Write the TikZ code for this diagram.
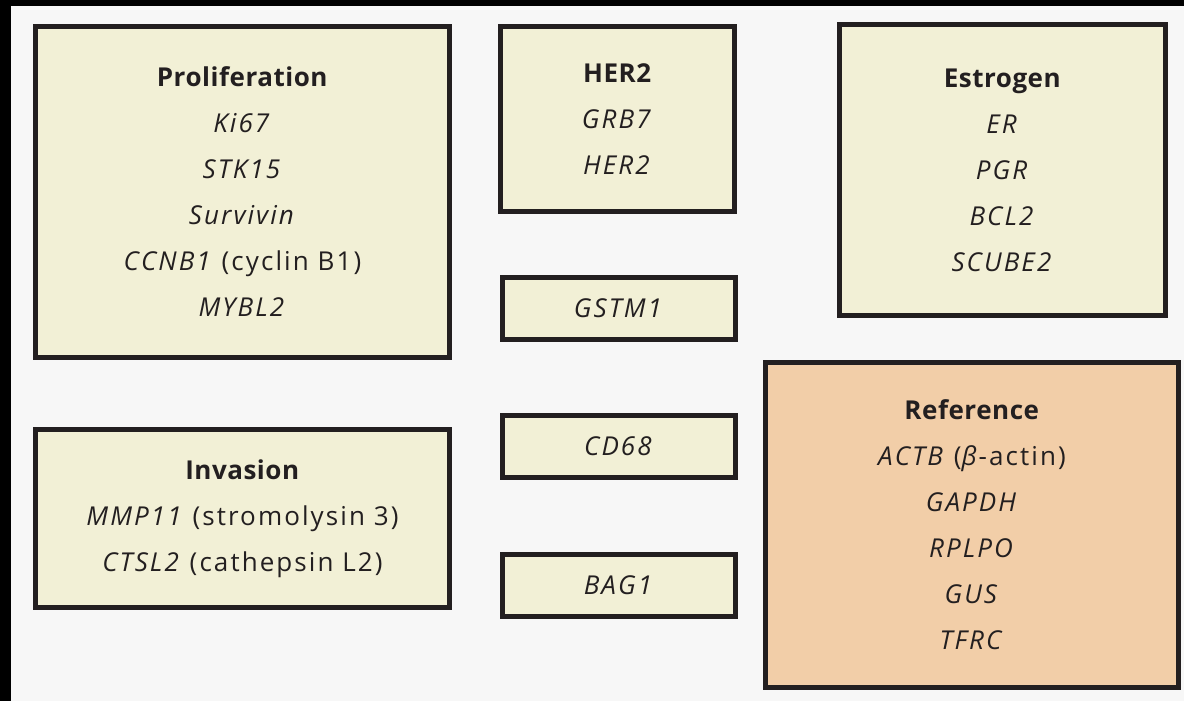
\documentclass[tikz,border=0pt]{standalone}
\usepackage{fontspec}
\setmainfont{Open Sans}[LetterSpace=8,BoldFeatures={LetterSpace=2}]
\usetikzlibrary{positioning}
\definecolor{boxcream}{HTML}{F2F0D6}
\definecolor{boxpeach}{HTML}{F2CEA8}
\definecolor{edgedark}{HTML}{231F20}
\definecolor{pagegray}{HTML}{F7F7F7}
\begin{document}
\begin{tikzpicture}[x=1pt,y=-1pt,node distance=138.5pt,on grid,
    group/.style={draw=edgedark,line width=5pt,fill=boxcream,inner sep=0pt,align=center,
      text=edgedark,font=\fontsize{26}{46}\selectfont},
    refgroup/.style={group,fill=boxpeach},
    single/.style={group,minimum width=233pt,minimum height=62pt}]
  % page and frame edges
  \fill[pagegray] (0,0) rectangle (1184,701);
  \fill[black] (0,0) rectangle (1184,6);
  \fill[black] (0,0) rectangle (11,701);

  \node[group,minimum width=414pt,minimum height=331pt] (prolif) at (242.5,192)
    {\textbf{Proliferation}\\ \textit{Ki67}\\ \textit{STK15}\\ \textit{Survivin}\\
     \textit{CCNB1} (cyclin B1)\\ \textit{MYBL2}};
  \node[group,minimum width=234pt,minimum height=185pt] (her2) at (617.5,119)
    {\textbf{HER2}\\ \textit{GRB7}\\ \textit{HER2}};
  \node[group,minimum width=326pt,minimum height=291pt] (estr) at (1002.5,170)
    {\textbf{Estrogen}\\ \textit{ER}\\ \textit{PGR}\\ \textit{BCL2}\\ \textit{SCUBE2}};
  \node[single] (gstm1) at (619,308) {\textit{GSTM1}};
  \node[single] (cd68) [below of=gstm1] {\textit{CD68}};
  \node[single] (bag1) [below of=cd68] {\textit{BAG1}};
  \node[group,minimum width=414pt,minimum height=178pt] (inv) at (242.5,518.5)
    {\textbf{Invasion}\\ \textit{MMP11} (stromolysin 3)\\ \textit{CTSL2} (cathepsin L2)};
  \node[refgroup,minimum width=413pt,minimum height=325pt] (ref) at (972,525)
    {\textbf{Reference}\\ \textit{ACTB} (\textit{β}-actin)\\ \textit{GAPDH}\\ \textit{RPLPO}\\
     \textit{GUS}\\ \textit{TFRC}};
\end{tikzpicture}
\end{document}
